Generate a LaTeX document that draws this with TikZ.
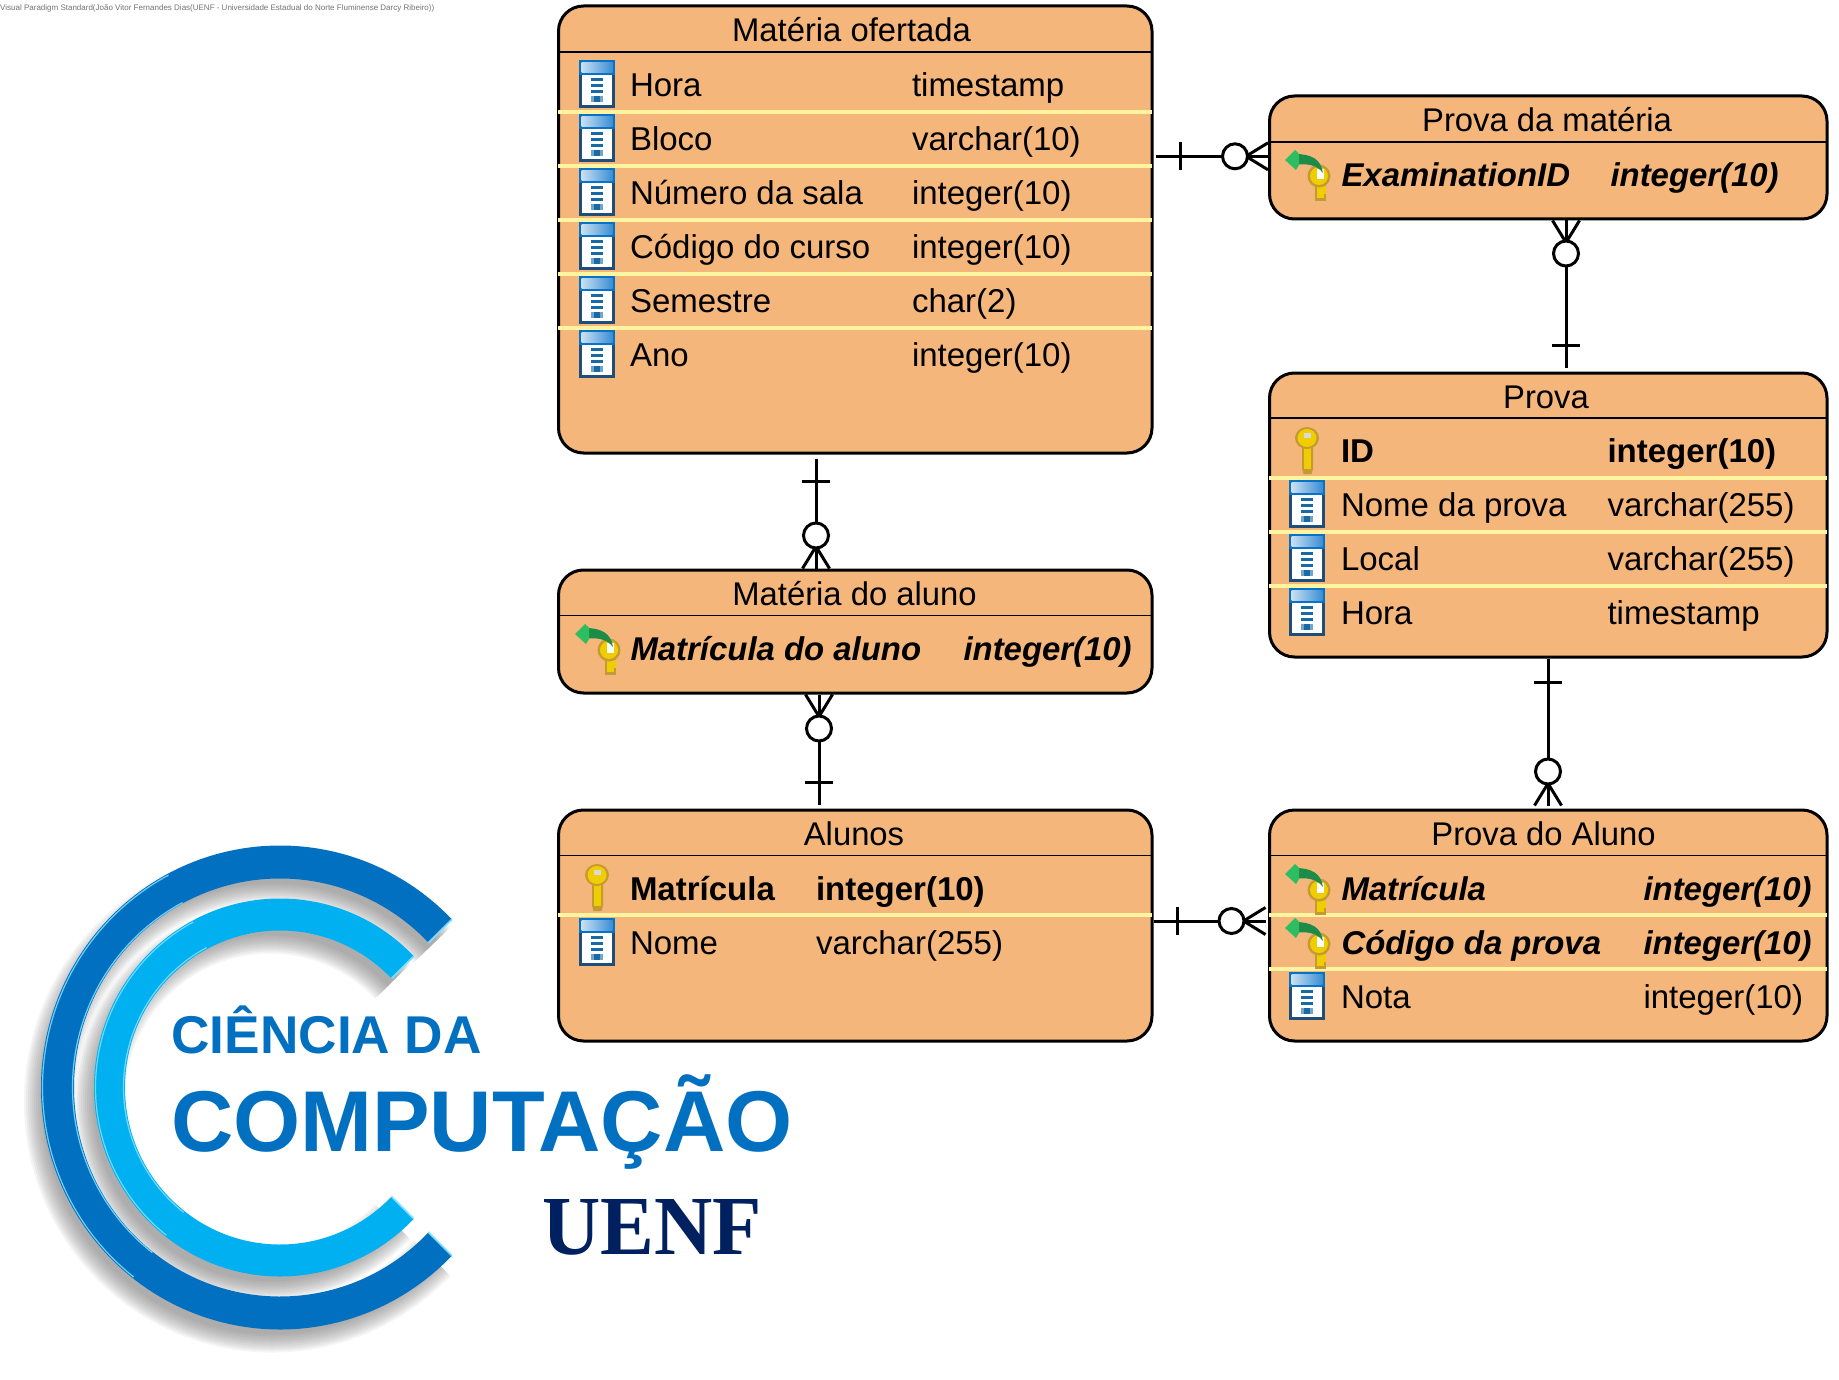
\documentclass[tikz,border=0pt]{standalone}
\usepackage{fontspec}
\setmainfont{Liberation Sans}
\newfontfamily\serifbold{Liberation Serif}
\usetikzlibrary{calc}
\definecolor{boxfill}{RGB}{244,182,122}
\definecolor{sepcol}{RGB}{255,244,160}
\definecolor{icondark}{RGB}{30,78,121}
\definecolor{iconblue}{RGB}{8,114,200}
\definecolor{icondash}{RGB}{24,106,164}
\definecolor{logodark}{RGB}{2,112,192}
\definecolor{logolight}{RGB}{0,176,240}
\definecolor{logoglint}{RGB}{130,225,255}
\definecolor{logonavy}{RGB}{0,32,96}
\definecolor{keygold}{RGB}{240,205,0}
\definecolor{keyedge}{RGB}{196,154,50}
\definecolor{arrowgreen}{RGB}{28,140,72}
\definecolor{arrowlight}{RGB}{44,190,96}
\newcounter{fc}
\tikzset{
  x=1pt,y=-1pt,
  erbox/.style={draw=black,fill=boxfill,line width=3pt,rounded corners=25pt,inner sep=0pt},
  headline/.style={draw=black,line width=1.9pt},
  sepline/.style={draw=sepcol,line width=3.2pt},
  erlabel/.style={inner sep=0pt,outer sep=0pt,anchor=base,font=\fontsize{32.8pt}{38pt}\selectfont},
  plainf/.style={inner sep=0pt,outer sep=0pt,anchor=base west,font=\fontsize{33pt}{38pt}\selectfont},
  boldf/.style={plainf,font=\fontsize{33pt}{38pt}\selectfont\bfseries},
  fkf/.style={plainf,font=\fontsize{32.9pt}{38pt}\selectfont\bfseries\itshape},
  conn/.style={draw=black,line width=3pt},
  logotxt/.style={inner sep=0pt,outer sep=0pt,anchor=base west,text=logodark},
  glint/.style={draw=logoglint,line width=1.2pt,opacity=.85},
}
% box: name, x1, y1, x2, y2, header y, title, title centre x
\newcommand\erboxdraw[8]{%
  \node[erbox,minimum width=#4pt-#2pt,minimum height=#5pt-#3pt] (#1) at ({(#2+#4)/2},{(#3+#5)/2}) {};
  \draw[headline] ($(#1.west|-0,#6)+(1.4pt,0)$) -- ($(#1.east|-0,#6)-(1.4pt,0)$);
  \node[erlabel] (#1-title) at (#8,{#6-10}) {#7};
}
\newcommand\sepat[2]{\draw[sepline] ($(#1.west|-0,#2)+(1.4pt,0)$) -- ($(#1.east|-0,#2)-(1.4pt,0)$);}
% style, name x, type x, baseline, name, type
\newcommand\field[6]{%
  \stepcounter{fc}%
  \node[#1,name=f\arabic{fc}a] at (#2,#4) {#5};
  \node[#1,name=f\arabic{fc}b] at (#3,#4) {#6};
}
% table icon, top-left corner
\newcommand\tblicon[2]{%
  \begin{scope}[shift={(#1,#2)}]
    \fill[icondark] (0,0) rectangle (36,48);
    \fill[iconblue] (0,0) rectangle (36,15);
    \shade[left color=iconblue!22,right color=iconblue!80] (2.5,2.5) rectangle (33.5,12.5);
    \fill[white] (3,15) rectangle (33,45);
    \fill[icondash] (12,18) rectangle (24,20.7);
    \fill[icondash] (12,24) rectangle (24,26.7);
    \fill[icondash] (12,30) rectangle (24,32.7);
    \fill[icondash!60] (12,36) rectangle (24,42);
    \fill[icondash] (15,36) rectangle (21,42);
  \end{scope}}
% primary key, top-left corner
\newcommand\pkkey[2]{%
  \begin{scope}[shift={(#1,#2)}]
    \fill[keyedge] (7,17) -- (18,17) -- (18,42) -- (16.5,47) -- (8.5,47) -- (7,42) -- cycle;
    \fill[keygold] (9,17) rectangle (16,42);
    \fill[keyedge] (12,11) ellipse [x radius=12,y radius=11];
    \fill[keygold] (12,11) ellipse [x radius=9.5,y radius=9];
    \fill[black!15] (8.5,6) rectangle (15.5,11);
  \end{scope}}
% foreign key, top-left corner of the arrow
\newcommand\fkkey[2]{%
  \begin{scope}[shift={(#1,#2)}]
    \fill[keyedge] (30,30) rectangle (41,51);
    \fill[keygold] (32,30) rectangle (38.5,48);
    \fill[keygold] (38,36) rectangle (41,44);
    \fill[keyedge] (34,26) ellipse [x radius=11.5,y radius=11.5];
    \fill[keygold] (34,26) ellipse [x radius=9,y radius=9];
    \fill[white] (32,19) rectangle (39,29);
    \fill[arrowgreen] (10,4) .. controls (26,4) and (36,9) .. (38,23)
       .. controls (32,15) and (22,13) .. (10,15) -- cycle;
    \fill[arrowlight] (0,10) -- (10,0) -- (14,4) -- (14,15) -- (11,20) -- cycle;
  \end{scope}}
% connector: one-end at #1, zero-or-many end at #2, circle distance #3, bar distance #4
\newcommand\errel[4]{%
  \draw[conn] (#1) -- (#2);
  \coordinate (barc) at ($(#1)!#4pt!(#2)$);
  \draw[conn] ($(barc)!14pt!90:(#2)$) -- ($(barc)!14pt!-90:(#2)$);
  \coordinate (crowc) at ($(#2)!22pt!(#1)$);
  \draw[conn] ($(#2)!13.5pt!90:(#1)$) -- (crowc) -- ($(#2)!13.5pt!-90:(#1)$);
  \coordinate (cc) at ($(#2)!#3pt!(#1)$);
  \draw[conn,fill=white] (cc) circle [radius=12.5pt];
}
% logo arc band
\newcommand\cband[6]{%
  ([shift={(#1,#2)}]-44:#3 and #4) arc [start angle=-44,end angle=-316,x radius=#3,y radius=#4]
  -- ([shift={(#1,#2)}]-316:#5 and #6) arc [start angle=-316,end angle=-44,x radius=#5,y radius=#6] -- cycle
}
% edge glints of one band, and the bevel of its two ends
\newcommand\bandglints[5]{%
  \draw[glint] ([shift={(#1,#2)}]-118:#3-1.5 and #4-1.5) arc [start angle=-118,end angle=-232,x radius=#3-1.5,y radius=#4-1.5];
  \draw[glint] ([shift={(#1,#2)}]-118:#5+1.5 and #5+3.5) arc [start angle=-118,end angle=-232,x radius=#5+1.5,y radius=#5+3.5];
  \draw[glint,line width=2pt] ([shift={(#1,#2)}]-44:#3 and #4) -- ([shift={(#1,#2)}]-44:#5 and #5+2);
  \draw[glint,line width=2pt] ([shift={(#1,#2)}]-316:#3 and #4) -- ([shift={(#1,#2)}]-316:#5 and #5+2);
}
\begin{document}
\begin{tikzpicture}
\useasboundingbox (0,0) rectangle (1839,1380);
\fill[white] (0,0) rectangle (1839,1380);

% small title
\node[inner sep=0pt,anchor=base west,text=black!55,font=\fontsize{8pt}{9pt}\selectfont] (vptitle) at (0,11)
  {Visual Paradigm Standard(João Vitor Fernandes Dias(UENF - Universidade Estadual do Norte Fluminense Darcy Ribeiro))};

% logo shadows
\foreach \e in {9,7,5,3,1,-1,-3,-5,-7,-9}{
  \pgfmathsetmacro\rao{239+\e}\pgfmathsetmacro\rbo{242+\e}
  \pgfmathsetmacro\rai{206-\e}\pgfmathsetmacro\rbi{209-\e}
  \pgfmathsetmacro\rco{186+\e}\pgfmathsetmacro\rdo{189+\e}
  \pgfmathsetmacro\rci{155-\e}\pgfmathsetmacro\rdi{157-\e}
  \fill[black!55,opacity=.08] \cband{272}{1101.5}{\rao}{\rbo}{\rai}{\rbi};
  \fill[black!55,opacity=.08] \cband{270}{1101.5}{\rco}{\rdo}{\rci}{\rdi};
}
% logo bands
\fill[logodark] \cband{280}{1087.5}{239}{242}{206}{209};
\fill[logolight] \cband{280}{1087.5}{186}{189}{155}{157};
\bandglints{280}{1087.5}{239}{242}{206}
\bandglints{280}{1087.5}{186}{189}{155}
\node[logotxt,font=\fontsize{53.2pt}{60pt}\selectfont\bfseries] (cienc) at (171.5,1053) {CIÊNCIA DA};
\node[logotxt,font=\fontsize{86.3pt}{95pt}\selectfont\bfseries] (comp) at (171,1151) {COMPUTAÇÃO};
\node[inner sep=0pt,anchor=base west,text=logonavy,font=\fontsize{84pt}{95pt}\serifbold\bfseries\selectfont] (uenf) at (542,1254) {\scalebox{.96}[1]{UENF}};

% Matéria ofertada
\erboxdraw{mo}{558.5}{6}{1152}{453}{52}{Matéria ofertada}{851.5}
\foreach \s in {112,166,220,274,328}{\sepat{mo}{\s}}
\foreach \i in {0,...,5}{\tblicon{579}{60+54*\i}}
\field{plainf}{630}{912}{96.7}{Hora}{timestamp}
\field{plainf}{630}{912}{150.7}{Bloco}{varchar(10)}
\field{plainf}{630}{912}{204.7}{Número da sala}{integer(10)}
\field{plainf}{630}{912}{258.7}{Código do curso}{integer(10)}
\field{plainf}{630}{912}{312.7}{Semestre}{char(2)}
\field{plainf}{630}{912}{366.5}{Ano}{integer(10)}

% Prova da matéria
\erboxdraw{pm}{1269.5}{96}{1827}{219}{141.7}{Prova da matéria}{1547}
\fkkey{1285}{150}
\field{fkf}{1341.5}{1610.5}{186.7}{ExaminationID}{integer(10)}

% Prova
\erboxdraw{pv}{1269.5}{373}{1827}{657}{418}{Prova}{1546}
\foreach \s in {478,532,586}{\sepat{pv}{\s}}
\pkkey{1295}{427}
\tblicon{1289}{480}\tblicon{1289}{534}\tblicon{1289}{588}
\field{boldf}{1341}{1607.5}{462}{ID}{integer(10)}
\field{plainf}{1341}{1607.5}{516}{Nome da prova}{varchar(255)}
\field{plainf}{1341}{1607.5}{570}{Local}{varchar(255)}
\field{plainf}{1341}{1607.5}{624}{Hora}{timestamp}

% Matéria do aluno
\erboxdraw{ma}{558.5}{570}{1152}{693}{615.5}{Matéria do aluno}{854.5}
\fkkey{575}{624}
\field{fkf}{630.5}{963.5}{660}{Matrícula do aluno}{integer(10)}

% Alunos
\erboxdraw{al}{558.5}{810}{1152}{1041}{855.5}{Alunos}{854}
\sepat{al}{915}
\pkkey{585}{864}
\tblicon{579}{918}
\field{boldf}{630}{816}{900}{Matrícula}{integer(10)}
\field{plainf}{630}{816}{954}{Nome}{varchar(255)}

% Prova do Aluno
\erboxdraw{pa}{1269.5}{810}{1827}{1041}{855.5}{Prova do Aluno}{1543.5}
\sepat{pa}{915}\sepat{pa}{969}
\fkkey{1285}{864}\fkkey{1285}{918}
\tblicon{1289}{972}
\field{fkf}{1341.5}{1643.5}{900}{Matrícula}{integer(10)}
\field{fkf}{1341.5}{1643.5}{954}{Código da prova}{integer(10)}
\field{plainf}{1341}{1643.5}{1008}{Nota}{integer(10)}

% connectors
\coordinate (c1a) at ($(mo.east|-0,156.3)+(2.5pt,0)$);
\coordinate (c1b) at ($(pm.west|-0,156.3)$);
\errel{c1a}{c1b}{33}{24}
\coordinate (c2a) at ($(pv.north-|1566,0)-(0,4)$);
\coordinate (c2b) at (pm.south-|1566,0);
\errel{c2a}{c2b}{33}{22}
\coordinate (c3a) at ($(mo.south-|816,0)+(0,4)$);
\coordinate (c3b) at (ma.north-|816,0);
\errel{c3a}{c3b}{33}{23}
\coordinate (c4a) at ($(al.north-|819,0)-(0,4)$);
\coordinate (c4b) at (ma.south-|819,0);
\errel{c4a}{c4b}{34}{22}
\coordinate (c5a) at (pv.south-|1548,0);
\coordinate (c5b) at ($(pa.north-|1548,0)-(0,3)$);
\errel{c5a}{c5b}{34}{24}
\coordinate (c6a) at ($(al.east|-0,921)+(.5pt,0)$);
\coordinate (c6b) at ($(pa.west|-0,921)-(2.5pt,0)$);
\errel{c6a}{c6b}{34}{23}
\end{tikzpicture}
\end{document}
